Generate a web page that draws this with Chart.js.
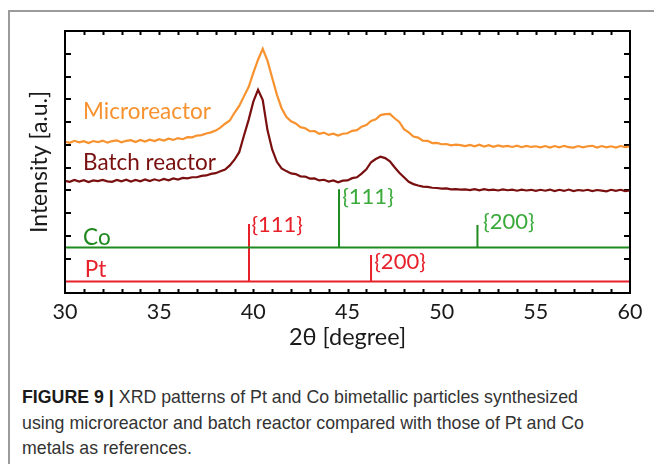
<!DOCTYPE html>
<html>
<head>
<meta charset="utf-8">
<script src="https://cdn.jsdelivr.net/npm/chart.js@4.4.0/dist/chart.umd.min.js"></script>
<style>
    html, body { margin: 0; padding: 0; background: #fff; }
    body { width: 654px; height: 464px; position: relative; overflow: hidden; }
    .marco { position: absolute; left: 8px; top: 10px; width: 646px; height: 454px;
             border-top: 2px solid #9b9b9b; border-left: 2px solid #9b9b9b; }
    #lienzo { position: absolute; left: 0; top: 0; }
    .pie { position: absolute; left: 22px; top: 384px; width: 680px;
           font-family: "Liberation Sans Narrow", "Liberation Sans", Arial, sans-serif;
           font-size: 19px; line-height: 25.5px; color: #333; white-space: nowrap;
           transform: scaleX(0.935); transform-origin: left top; }
    .pie b { color: #1a1a1a; }
</style>
</head>
<body>
<div class="marco"></div>
<canvas id="lienzo" width="654" height="360"></canvas>
<div class="pie"><b>FIGURE 9 |</b> XRD patterns of Pt and Co bimetallic particles synthesized<br>using microreactor and batch reactor compared with those of Pt and Co<br>metals as references.</div>

<script>
(function () {

    // 2theta en grados (paso 0.25)
    const twoTheta = [
        30.00, 30.25, 30.50, 30.75, 31.00, 31.25, 31.50, 31.75, 32.00, 32.25,
        32.50, 32.75, 33.00, 33.25, 33.50, 33.75, 34.00, 34.25, 34.50, 34.75,
        35.00, 35.25, 35.50, 35.75, 36.00, 36.25, 36.50, 36.75, 37.00, 37.25,
        37.50, 37.75, 38.00, 38.25, 38.50, 38.75, 39.00, 39.25, 39.50, 39.75,
        40.00, 40.25, 40.50, 40.75, 41.00, 41.25, 41.50, 41.75, 42.00, 42.25,
        42.50, 42.75, 43.00, 43.25, 43.50, 43.75, 44.00, 44.25, 44.50, 44.75,
        45.00, 45.25, 45.50, 45.75, 46.00, 46.25, 46.50, 46.75, 47.00, 47.25,
        47.50, 47.75, 48.00, 48.25, 48.50, 48.75, 49.00, 49.25, 49.50, 49.75,
        50.00, 50.25, 50.50, 50.75, 51.00, 51.25, 51.50, 51.75, 52.00, 52.25,
        52.50, 52.75, 53.00, 53.25, 53.50, 53.75, 54.00, 54.25, 54.50, 54.75,
        55.00, 55.25, 55.50, 55.75, 56.00, 56.25, 56.50, 56.75, 57.00, 57.25,
        57.50, 57.75, 58.00, 58.25, 58.50, 58.75, 59.00, 59.25, 59.50, 59.75,
        60.00
    ];

    const microreactor = [
        6.14, 6.09, 6.18, 6.11, 6.16, 6.08, 6.17, 6.12, 6.19, 6.10,
        6.17, 6.20, 6.11, 6.18, 6.21, 6.13, 6.22, 6.15, 6.23, 6.17,
        6.25, 6.19, 6.27, 6.22, 6.30, 6.25, 6.34, 6.33, 6.41, 6.43,
        6.50, 6.55, 6.63, 6.76, 6.93, 7.07, 7.41, 7.71, 8.13, 8.54,
        9.16, 9.74, 10.22, 9.70, 8.95, 8.21, 7.61, 7.23, 7.04, 6.94,
        6.78, 6.73, 6.60, 6.61, 6.49, 6.54, 6.44, 6.49, 6.41, 6.49,
        6.51, 6.62, 6.65, 6.80, 6.87, 7.05, 7.12, 7.31, 7.35, 7.36,
        7.17, 7.01, 6.69, 6.55, 6.37, 6.32, 6.19, 6.18, 6.08, 6.09,
        6.03, 6.04, 5.98, 6.01, 5.99, 5.95, 6.00, 5.94, 6.01, 5.93,
        5.99, 5.92, 5.98, 5.93, 5.96, 5.91, 5.97, 5.90, 5.96, 5.91,
        5.94, 5.89, 5.95, 5.88, 5.95, 5.89, 5.96, 5.90, 5.88, 5.95,
        5.89, 5.94, 5.96, 5.88, 5.95, 5.89, 5.94, 5.88, 5.95, 5.90,
        5.93
    ];

    const batchReactor = [
        4.42, 4.38, 4.46, 4.39, 4.45, 4.37, 4.44, 4.41, 4.46, 4.40,
        4.38, 4.46, 4.40, 4.47, 4.39, 4.46, 4.40, 4.48, 4.41, 4.49,
        4.43, 4.51, 4.45, 4.53, 4.48, 4.55, 4.53, 4.58, 4.58, 4.64,
        4.66, 4.73, 4.76, 4.84, 4.92, 5.10, 5.35, 5.68, 6.40, 7.10,
        7.90, 8.42, 7.97, 6.65, 5.80, 5.26, 4.97, 4.85, 4.75, 4.72,
        4.62, 4.61, 4.52, 4.53, 4.44, 4.47, 4.39, 4.44, 4.36, 4.43,
        4.44, 4.54, 4.58, 4.74, 4.93, 5.24, 5.38, 5.48, 5.42, 5.28,
        5.02, 4.78, 4.58, 4.38, 4.28, 4.22, 4.17, 4.16, 4.12, 4.11,
        4.08, 4.09, 4.05, 4.06, 4.04, 4.05, 4.02, 4.06, 4.01, 4.06,
        4.02, 4.04, 4.00, 4.05, 4.01, 4.04, 3.99, 4.04, 4.00, 4.03,
        3.98, 4.03, 3.99, 4.04, 3.97, 4.03, 3.98, 4.04, 3.97, 4.02,
        3.99, 4.03, 3.97, 4.02, 3.99, 3.96, 4.03, 3.98, 4.03, 3.97,
        4.00
    ];

    // patrones de referencia
    const ptPeaks = [39.77, 46.25];
    const ptHeights = [2.53, 1.17];
    const coPeaks = [44.55, 51.9];
    const coHeights = [2.55, 0.99];
    const ptBase = 0;
    const coBase = 1.5;

    const xTickLabels = [30, 35, 40, 45, 50, 55, 60];

    // textos dentro de la grafica
    const etiquetas = [
        { texto: 'Microreactor', x: 30.96, y: 7.45, color: '#f7922f', size: 22.5 },
        { texto: 'Batch reactor', x: 30.96, y: 5.21, color: '#7a0f0f', size: 22.5 },
        { texto: 'Co', x: 30.96, y: 1.91, color: '#1f8a1f', size: 22.5 },
        { texto: 'Pt', x: 31.05, y: 0.51, color: '#e8202a', size: 22.5 },
        { texto: '{111}', x: 39.9, y: 2.49, color: '#e8202a', size: 22 },
        { texto: '{200}', x: 46.42, y: 0.86, color: '#e8202a', size: 22 },
        { texto: '{111}', x: 44.72, y: 3.71, color: '#3aaa3a', size: 22 },
        { texto: '{200}', x: 52.2, y: 2.62, color: '#3aaa3a', size: 22 }
    ];

    function patron(peaks, heights, base){
        const puntos = [{ x: 30, y: base }];
        peaks.forEach((p, i) => {
            puntos.push({ x: p, y: base }, { x: p, y: base + heights[i] }, { x: p, y: base });
        });
        puntos.push({ x: 60, y: base });
        return puntos;
    }

    const serie = valores => twoTheta.map((t, i) => ({ x: t, y: valores[i] }));

    // ticks hacia dentro + marco
    const marcoPlugin = {
        id: 'marco',
        beforeDatasetsDraw(chart){
            const { ctx, chartArea: a, scales: { x, y } } = chart;
            ctx.save();
            ctx.strokeStyle = '#000';
            ctx.lineWidth = 2;
            ctx.beginPath();
            x.ticks.forEach(t => {
                if (t.value <= x.min || t.value >= x.max) return;
                const px = Math.round(x.getPixelForValue(t.value)) + 0.5;
                ctx.moveTo(px, a.bottom); ctx.lineTo(px, a.bottom - 4);
                ctx.moveTo(px, a.top); ctx.lineTo(px, a.top + 4);
            });
            y.ticks.forEach(t => {
                if (!Number.isInteger(t.value) || t.value <= y.min || t.value >= y.max) return;
                const py = Math.round(y.getPixelForValue(t.value));
                ctx.moveTo(a.left, py); ctx.lineTo(a.left + 6, py);
                ctx.moveTo(a.right, py); ctx.lineTo(a.right - 6, py);
            });
            ctx.stroke();
            ctx.restore();
        },
        afterDatasetsDraw(chart){
            const { ctx, chartArea: a, scales: { x, y } } = chart;
            ctx.save();
            ctx.strokeStyle = '#000';
            ctx.lineWidth = 2;
            ctx.strokeRect(a.left, a.top, a.right - a.left, a.bottom - a.top);
            ctx.textAlign = 'left';
            ctx.textBaseline = 'middle';
            etiquetas.forEach(e => {
                ctx.font = e.size + 'px Lato, "Open Sans", sans-serif';
                ctx.fillStyle = e.color;
                ctx.fillText(e.texto, x.getPixelForValue(e.x), y.getPixelForValue(e.y));
            });
            ctx.restore();
        }
    };

    const ctx = document.getElementById('lienzo').getContext('2d');

    new Chart(ctx, {
        type: 'line',
        data: {
            datasets: [
                { data: serie(microreactor), borderColor: '#f7922f', borderWidth: 2.2 },
                { data: serie(batchReactor), borderColor: '#7a0f0f', borderWidth: 2.2 },
                { data: patron(coPeaks, coHeights, coBase), borderColor: '#1f8a1f', borderWidth: 2 },
                { data: patron(ptPeaks, ptHeights, ptBase), borderColor: '#e8202a', borderWidth: 2 }
            ]
        },
        options: {
            responsive: false,
            animation: false,
            parsing: false,
            layout: { padding: { left: 0, top: 31, right: 24, bottom: 0 } },
            elements: { point: { radius: 0 }, line: { tension: 0 } },
            plugins: {
                legend: { display: false },
                tooltip: { enabled: false }
            },
            scales: {
                x: {
                    type: 'linear',
                    min: 30,
                    max: 60,
                    grid: { display: false, drawTicks: false },
                    border: { display: false },
                    ticks: {
                        stepSize: 1,
                        autoSkip: false,
                        maxRotation: 0,
                        padding: 6,
                        color: '#1a1a1a',
                        font: { family: 'Lato, "Open Sans", sans-serif', size: 21.5 },
                        callback: v => xTickLabels.includes(v) ? v : ''
                    },
                    title: {
                        display: true,
                        text: '2θ [degree]',
                        color: '#1a1a1a',
                        font: { family: 'Lato, "Open Sans", sans-serif', size: 23.5 },
                        padding: { top: 0, bottom: 8 }
                    },
                    afterFit: s => { s.height = 67; }
                },
                y: {
                    min: -0.5,
                    max: 11,
                    grid: { display: false, drawTicks: false },
                    border: { display: false },
                    ticks: { stepSize: 1, display: false },
                    title: {
                        display: true,
                        text: 'Intensity [a.u.]',
                        color: '#1a1a1a',
                        font: { family: 'Lato, "Open Sans", sans-serif', size: 23 },
                        padding: { top: 26, bottom: 0 }
                    },
                    afterFit: s => { s.width = 65; }
                }
            }
        },
        plugins: [marcoPlugin]
    });

})();
</script>
</body>
</html>
